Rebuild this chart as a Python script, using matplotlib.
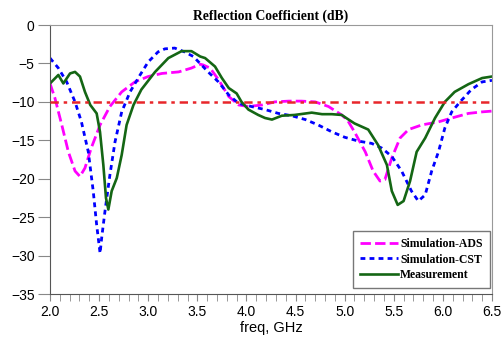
import matplotlib
matplotlib.use("Agg")
import matplotlib.pyplot as plt
from matplotlib.ticker import MultipleLocator

# ── Data (freq in GHz, S11 in dB) ──────────────────────────────────
freq_ads = [2.0, 2.05, 2.12, 2.187, 2.255, 2.305, 2.356, 2.42, 2.51, 2.61, 2.73,
            2.865, 3.0, 3.14, 3.31, 3.44, 3.53, 3.56, 3.63, 3.715, 3.82, 3.92,
            4.02, 4.16, 4.29, 4.43, 4.56, 4.70, 4.835, 4.97, 5.03, 5.10, 5.21,
            5.29, 5.36, 5.41, 5.48, 5.564, 5.65, 5.785, 5.955, 6.09, 6.26, 6.40, 6.50]
s11_ads = [-7.6, -9.5, -13.0, -16.5, -19.0, -19.7, -18.6, -16.0, -13.0, -10.6, -8.7,
           -7.4, -6.7, -6.3, -6.1, -5.6, -5.1, -5.2, -5.6, -7.1, -9.3, -10.4,
           -10.6, -10.4, -10.0, -9.9, -9.9, -10.0, -10.6, -11.7, -12.4, -13.9, -16.5,
           -19.0, -20.3, -20.1, -17.3, -14.7, -13.6, -13.0, -12.6, -12.1, -11.5, -11.3, -11.2]

freq_cst = [2.0, 2.085, 2.17, 2.255, 2.32, 2.39, 2.44, 2.475, 2.51, 2.526, 2.56,
            2.61, 2.662, 2.73, 2.815, 2.917, 3.0, 3.10, 3.17, 3.27, 3.37, 3.46,
            3.61, 3.715, 3.82, 3.92, 4.05, 4.19, 4.325, 4.46, 4.60, 4.73, 4.87,
            5.0, 5.14, 5.275, 5.377, 5.48, 5.58, 5.68, 5.75, 5.82, 5.886, 5.955,
            6.02, 6.09, 6.175, 6.29, 6.40, 6.50]
s11_cst = [-4.3, -5.6, -7.4, -10.0, -12.6, -16.5, -21.6, -26.0, -29.7, -27.7, -24.2,
           -19.5, -15.2, -11.3, -8.7, -6.5, -4.8, -3.5, -3.1, -3.0, -3.5, -4.1,
           -6.1, -7.4, -9.1, -10.2, -10.6, -11.0, -11.5, -11.8, -12.3, -13.0, -13.9,
           -14.6, -15.1, -15.4, -16.0, -17.1, -19.0, -21.6, -22.9, -22.1, -19.0, -16.5,
           -13.4, -11.3, -10.0, -8.4, -7.4, -7.2]

freq_meas = [2.0, 2.085, 2.136, 2.204, 2.255, 2.305, 2.356, 2.41, 2.475, 2.509, 2.543,
             2.57, 2.594, 2.628, 2.68, 2.73, 2.78, 2.85, 2.93, 3.07, 3.205, 3.34,
             3.44, 3.53, 3.579, 3.68, 3.75, 3.82, 3.90, 3.95, 4.02, 4.12, 4.19,
             4.26, 4.36, 4.49, 4.665, 4.77, 4.87, 4.97, 5.04, 5.10, 5.24, 5.34,
             5.43, 5.48, 5.54, 5.60, 5.666, 5.733, 5.82, 5.92, 6.02, 6.12, 6.26, 6.40, 6.50]
s11_meas = [-7.6, -6.5, -7.6, -6.3, -6.1, -6.7, -8.7, -10.4, -11.5, -13.9, -18.2,
            -22.5, -24.0, -21.6, -19.9, -16.9, -13.0, -10.4, -8.4, -6.1, -4.3, -3.4,
            -3.4, -4.1, -4.3, -5.4, -6.9, -8.2, -8.9, -10.0, -11.0, -11.7, -12.1,
            -12.3, -11.8, -11.7, -11.4, -11.6, -11.6, -11.7, -12.3, -12.8, -13.6, -15.6,
            -18.2, -21.6, -23.4, -22.9, -20.3, -16.5, -14.7, -12.1, -10.0, -8.7, -7.7, -6.9, -6.7]

ref_level = -10
x_ticks = [2.0, 2.5, 3.0, 3.5, 4.0, 4.5, 5.0, 5.5, 6.0, 6.5]
y_ticks = [0, -5, -10, -15, -20, -25, -30, -35]

plt.rcParams['lines.scale_dashes'] = False

fig = plt.figure(figsize=(5.03, 3.38), dpi=100)
ax = fig.add_axes([0.0994, 0.130, 0.8787, 0.796])

ax.plot(freq_ads, s11_ads, color='#ff00ff', lw=2.0, dashes=(7.5, 3),
        label='Simulation-ADS')
ax.plot(freq_cst, s11_cst, color='#0000ff', lw=2.0, dashes=(3.5, 3),
        label='Simulation-CST')
ax.plot(freq_meas, s11_meas, color='#146614', lw=1.9, label='Measurement')
ax.axhline(ref_level, color='#e8262a', lw=1.8, dashes=(6, 3.5, 2.5, 3.5), zorder=4)

ax.set_xlim(2.0, 6.5)
ax.set_ylim(-35, 0)
ax.set_xticks(x_ticks)
ax.set_xticklabels([f'{v:.1f}' for v in x_ticks])
ax.set_yticks(y_ticks)
ax.xaxis.set_minor_locator(MultipleLocator(0.1))

for side in ['left', 'bottom']:
    ax.spines[side].set_color('#555555')
for side in ['top', 'right']:
    ax.spines[side].set_color('#999999')
ax.tick_params(axis='y', direction='out', length=9, color='#888888',
               labelsize=10, pad=2)
ax.tick_params(axis='x', which='both', direction='out', length=5,
               color='#888888', labelsize=10, pad=3)
for lab in ax.get_xticklabels() + ax.get_yticklabels():
    lab.set_family('Liberation Sans')

ax.set_title('Reflection Coefficient (dB)', family='Liberation Serif',
             fontweight='bold', fontsize=9.8, pad=4)
ax.set_xlabel('freq, GHz', family='Liberation Sans', fontsize=10.5, labelpad=1)

leg = ax.legend(loc='lower right', bbox_to_anchor=(0.995, 0.022),
                borderaxespad=0, fancybox=False, framealpha=1,
                edgecolor='#777777', handlelength=3.2, handletextpad=0.2,
                labelspacing=0.3, borderpad=0.6,
                prop={'family': 'Liberation Serif', 'weight': 'bold', 'size': 8.5})
leg.get_frame().set_linewidth(1.0)

fig.savefig('out.png', dpi=100)
